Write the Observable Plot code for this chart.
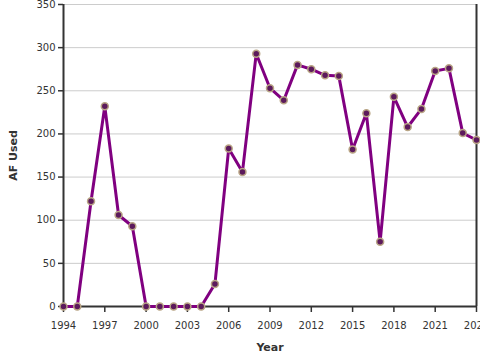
<!DOCTYPE html>
<html>
<head>
<meta charset="utf-8">
<script src="https://cdn.jsdelivr.net/npm/d3@7"></script>
<script src="https://cdn.jsdelivr.net/npm/@observablehq/plot@0.6"></script>
<style>
  html, body { margin: 0; padding: 0; background: #fff; }
  svg { display: block; }
</style>
</head>
<body>
<div id="chart"></div>
<script>
const years = [1994,1995,1996,1997,1998,1999,2000,2001,2002,2003,2004,2005,2006,2007,2008,2009,2010,2011,2012,2013,2014,2015,2016,2017,2018,2019,2020,2021,2022,2023,2024];
const afUsed = [0,0,122,232,106,93,0,0,0,0,0,26,183,156,293,253,239,280,275,268,267,182,224,75,243,208,229,273,276,201,193];
const xTicks = [1994,1997,2000,2003,2006,2009,2012,2015,2018,2021,2024];
const yTicks = [0,50,100,150,200,250,300,350];

const data = years.map((y, i) => ({year: y, value: afUsed[i]}));

const chart = Plot.plot({
  width: 480,
  height: 360,
  marginLeft: 63,
  marginRight: 4,
  marginTop: 4,
  marginBottom: 54,
  style: {fontFamily: "DejaVu Sans, sans-serif", fontSize: "10px", color: "#333", background: "#fff"},
  x: {domain: [1994, 2024]},
  y: {domain: [0, 350]},
  marks: [
    Plot.gridY(yTicks, {stroke: "#ccc", strokeOpacity: 1, strokeWidth: 1}),
    Plot.axisY(yTicks, {tickSize: 5, tickPadding: 3, stroke: "#333", strokeWidth: 1.5, label: "AF Used", labelAnchor: "center", labelArrow: "none", labelOffset: 54, fontSize: 10}),
    Plot.axisX(xTicks, {tickSize: 6, tickPadding: 9, tickFormat: "d", stroke: "#333", strokeWidth: 1.5, label: "Year", labelAnchor: "center", labelArrow: "none", labelOffset: 44, fontSize: 10}),
    Plot.ruleX([1994, 2024], {stroke: "#333", strokeWidth: 2}),
    Plot.ruleY([0], {stroke: "#333", strokeWidth: 2}),
    Plot.line(data, {x: "year", y: "value", stroke: "#800080", strokeWidth: 3}),
    Plot.dot(data, {x: "year", y: "value", r: 3.5, fill: "#5c1a5c", stroke: "#b9a585", strokeWidth: 1.5})
  ]
});
d3.select(chart).selectAll("[aria-label='x-axis label'], [aria-label='y-axis label']").style("font-weight", "bold").style("font-size", "11px");
document.getElementById("chart").appendChild(chart);
</script>
</body>
</html>
